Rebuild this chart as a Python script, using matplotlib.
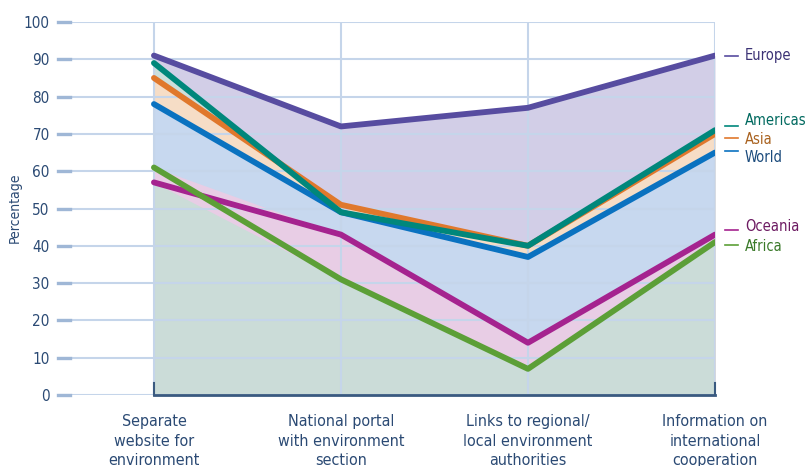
import numpy as np
import matplotlib.pyplot as plt
from matplotlib import font_manager

# -------------------------------
# DATA
# -------------------------------
categories = [
    "Separate\nwebsite for\nenvironment",
    "National portal\nwith environment\nsection",
    "Links to regional/\nlocal environment\nauthorities",
    "Information on\ninternational\ncooperation",
]
europe = [91, 72, 77, 91]
americas = [89, 49, 40, 71]
asia = [85, 51, 40, 70]
world = [78, 49, 37, 65]
oceania = [57, 43, 14, 43]
africa = [61, 31, 7, 41]
y_ticks = [0, 10, 20, 30, 40, 50, 60, 70, 80, 90, 100]

# -------------------------------
# FONT (condensed look if available)
# -------------------------------
names = {f.name for f in font_manager.fontManager.ttflist}
narrow = "Liberation Sans Narrow" if "Liberation Sans Narrow" in names else "DejaVu Sans"
plt.rcParams["font.family"] = [narrow, "DejaVu Sans"]
plt.rcParams["font.stretch"] = "condensed"

TXT = "#2b4a74"
GRID = "#c5d5ea"

fig = plt.figure(figsize=(8.05, 4.66), dpi=100)
ax = fig.add_axes([58 / 805, 1 - 395 / 466, (715 - 58) / 805, (395 - 22) / 466])

x = np.arange(len(categories))

# filled bands (layered, opaque)
lo = np.minimum(oceania, africa)
hi = np.maximum(oceania, africa)
ax.fill_between(x, 0, europe, color="#d2cee7", lw=0)
ax.fill_between(x, 0, americas, color="#cddfdc", lw=0)
ax.fill_between(x, 0, asia, color="#f6ddc6", lw=0)
ax.fill_between(x, 0, world, color="#c7d8ef", lw=0)
ax.fill_between(x, 0, hi, color="#e8cde5", lw=0)
ax.fill_between(x, 0, lo, color="#cbdcd8", lw=0)

# grid
for yv in y_ticks:
    ax.axhline(yv, color=GRID, lw=1.5, zorder=1)
    ax.plot([-0.513, -0.45], [yv, yv], color="#9fb7d6", lw=2.4, zorder=1, clip_on=False)
for xv in x:
    ax.axvline(xv, color=GRID, lw=1.5, zorder=1)

# lines
series = {
    "Europe": (europe, "#574ca0", "#3b3275"),
    "Americas": (americas, "#00877b", "#00695f"),
    "Asia": (asia, "#e0782c", "#a9621f"),
    "World": (world, "#0a72c0", "#1b4b7c"),
    "Oceania": (oceania, "#a5238f", "#6d1b62"),
    "Africa": (africa, "#5c9f37", "#3b7a2a"),
}
for name in ["Europe", "World", "Asia", "Americas", "Oceania", "Africa"]:
    vals, col, tcol = series[name]
    ax.plot(x, vals, color=col, lw=4.2, solid_capstyle="round", zorder=3)

# right-hand labels (marker line y, text y)
label_pos = {"Europe": (91, 91), "Americas": (72.1, 73.5), "Asia": (69.0, 68.6),
             "World": (65.5, 63.8), "Oceania": (44.2, 45.3), "Africa": (40.2, 39.8)}
for name, (vals, col, tcol) in series.items():
    ly, ty = label_pos[name]
    ax.plot([3.055, 3.125], [ly, ly], color=col, lw=1.2, clip_on=False)
    ax.text(3.16, ty, name, color=tcol, fontsize=10.5, va="center", ha="left", clip_on=False)

# bottom axis bar
ax.plot([0, 3], [0, 0], color="#3a5a80", lw=2, zorder=4, clip_on=False)
for xv in [0, 3]:
    ax.plot([xv, xv], [0, 3.2], color="#3a5a80", lw=1.5, zorder=4, clip_on=False)

ax.set_xlim(-0.513, 3)
ax.set_ylim(0, 100)
ax.set_yticks(y_ticks)
ax.set_yticklabels([str(v) for v in y_ticks], fontsize=11, color=TXT)
ax.tick_params(axis="y", length=0, pad=6)
ax.set_xticks(x)
ax.set_xticklabels(categories, fontsize=11.5, color=TXT, linespacing=1.35)
ax.tick_params(axis="x", length=0, pad=14)
for s in ax.spines.values():
    s.set_visible(False)

fig.text(15 / 805, 1 - 208 / 466, "Percentage", rotation=90, color=TXT,
         fontsize=10, ha="center", va="center")

fig.savefig("out.png", dpi=100)
